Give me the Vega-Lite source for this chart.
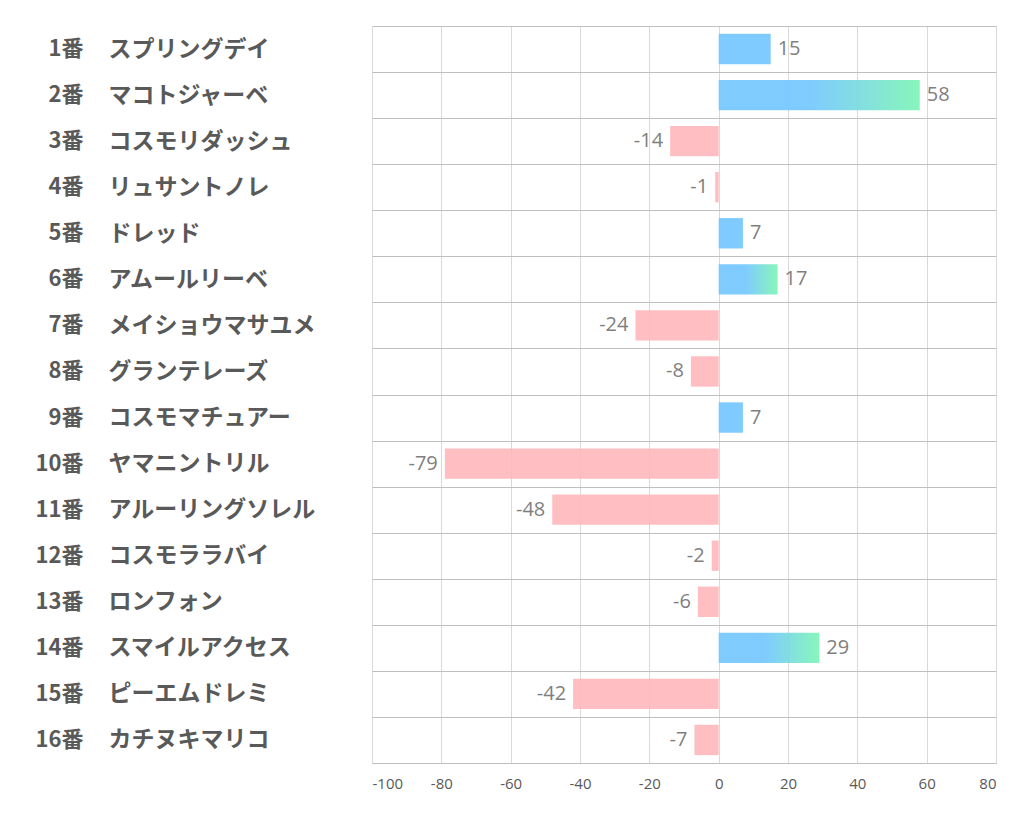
{
  "$schema": "https://vega.github.io/schema/vega-lite/v6.json",
  "width": 624,
  "height": 737,
  "autosize": {"type": "none"},
  "padding": {"left": 372, "top": 26, "right": 26, "bottom": 71},
  "background": "white",
  "config": {"view": {"stroke": null}},
  "data": {"values": [
    {"num": "1番", "name": "スプリングデイ", "value": 15},
    {"num": "2番", "name": "マコトジャーベ", "value": 58},
    {"num": "3番", "name": "コスモリダッシュ", "value": -14},
    {"num": "4番", "name": "リュサントノレ", "value": -1},
    {"num": "5番", "name": "ドレッド", "value": 7},
    {"num": "6番", "name": "アムールリーベ", "value": 17},
    {"num": "7番", "name": "メイショウマサユメ", "value": -24},
    {"num": "8番", "name": "グランテレーズ", "value": -8},
    {"num": "9番", "name": "コスモマチュアー", "value": 7},
    {"num": "10番", "name": "ヤマニントリル", "value": -79},
    {"num": "11番", "name": "アルーリングソレル", "value": -48},
    {"num": "12番", "name": "コスモララバイ", "value": -2},
    {"num": "13番", "name": "ロンフォン", "value": -6},
    {"num": "14番", "name": "スマイルアクセス", "value": 29},
    {"num": "15番", "name": "ピーエムドレミ", "value": -42},
    {"num": "16番", "name": "カチヌキマリコ", "value": -7}
  ]},
  "resolve": {"scale": {"y": "independent"}, "axis": {"y": "independent"}},
  "layer": [
    {
      "mark": {"type": "text", "text": ""},
      "encoding": {
        "y": {"field": "name", "type": "nominal", "sort": null,
          "scale": {"padding": 0},
          "axis": {"orient": "left", "title": null, "labelAlign": "left", "labelPadding": 264, "labelLimit": 400,
            "labelFont": "Noto Sans CJK JP", "labelFontWeight": "bold", "labelFontSize": 23,
            "labelColor": "#595959", "ticks": false, "domain": false,
            "grid": true, "tickBand": "extent", "gridColor": "#bfbfbf", "gridWidth": 1}
        }
      }
    },
    {
      "encoding": {
        "y": {"field": "num", "type": "nominal",
          "scale": {"domain": ["1番","2番","3番","4番","5番","6番","7番","8番","9番","10番","11番","12番","13番","14番","15番","16番"], "paddingInner": 0.34, "paddingOuter": 0.17},
          "axis": {"orient": "left", "title": null, "labelAlign": "right", "labelPadding": 289,
            "labelFont": "Noto Sans CJK JP", "labelFontWeight": "bold", "labelFontSize": 22,
            "labelColor": "#595959", "ticks": false, "domain": false, "grid": false}
        }
      },
      "layer": [
        {
          "mark": {"type": "bar", "opacity": 0},
          "encoding": {
            "x": {"field": "value", "type": "quantitative",
              "scale": {"domain": [-100, 80], "nice": false},
              "axis": {"title": null, "values": [-100,-80,-60,-40,-20,0,20,40,60,80],
                "labelExpr": "'' + datum.value",
                "grid": true, "gridColor": "#d9d9d9", "ticks": false,
                "domain": true, "domainColor": "#bfbfbf", "labelFont": "Open Sans",
                "labelFontSize": 15, "labelColor": "#595959", "labelPadding": 13}
            },
            "x2": {"datum": 0}
          }
        },
        {
          "transform": [{"filter": "datum.value < 0"}],
          "mark": {"type": "bar", "color": "#FFB8BC", "opacity": 0.92},
          "encoding": {"x": {"field": "value", "type": "quantitative"}, "x2": {"datum": 0}}
        },
        {
          "transform": [{"filter": "datum.value > 0 && datum.value <= 15"}],
          "mark": {"type": "bar", "color": "#74C6FF", "opacity": 0.92},
          "encoding": {"x": {"field": "value", "type": "quantitative"}, "x2": {"datum": 0}}
        },
        {
          "transform": [{"filter": "datum.value > 15"}],
          "mark": {"type": "bar", "opacity": 0.92, "color": {
            "gradient": "linear", "x1": 0, "x2": 1, "y1": 0, "y2": 0,
            "stops": [{"offset": 0, "color": "#74C6FF"}, {"offset": 0.45, "color": "#74C6FF"}, {"offset": 1, "color": "#7DF5B5"}]}},
          "encoding": {"x": {"field": "value", "type": "quantitative"}, "x2": {"datum": 0}}
        },
        {
          "transform": [{"filter": "datum.value > 0"}],
          "mark": {"type": "text", "align": "left", "dx": 7, "font": "Open Sans", "fontSize": 20, "color": "#7f7f7f"},
          "encoding": {"x": {"field": "value", "type": "quantitative"}, "text": {"field": "value", "type": "nominal"}}
        },
        {
          "transform": [{"filter": "datum.value < 0"}],
          "mark": {"type": "text", "align": "right", "dx": -7, "font": "Open Sans", "fontSize": 20, "color": "#7f7f7f"},
          "encoding": {"x": {"field": "value", "type": "quantitative"}, "text": {"field": "value", "type": "nominal"}}
        }
      ]
    }
  ]
}
